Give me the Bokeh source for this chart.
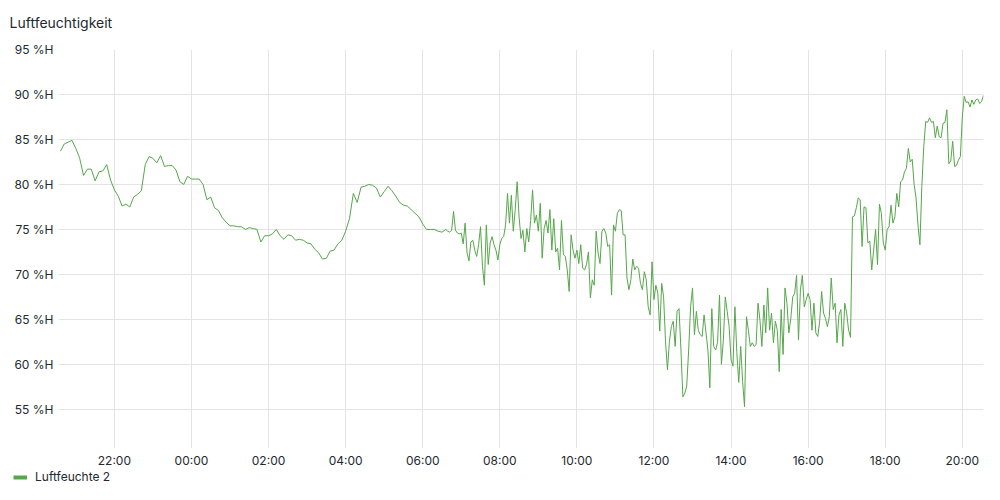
import pandas as pd
from bokeh.plotting import figure
from bokeh.layouts import column
from bokeh.models import (Range1d, FixedTicker, CustomJSTickFormatter, DatetimeTickFormatter,
                          Label, Legend, LegendItem, ColumnDataSource)
from bokeh.embed import file_html
from bokeh.resources import INLINE

title_text = "Luftfeuchtigkeit"
series_name = "Luftfeuchte 2"

# time window shown (24 h)
window_start = "2024-06-10 20:33"
window_end = "2024-06-11 20:33"

# y-axis ticks (%H)
y_ticks = [55, 60, 65, 70, 75, 80, 85, 90, 95]

# x-axis ticks
x_tick_times = ["2024-06-10 22:00", "2024-06-11 00:00", "2024-06-11 02:00", "2024-06-11 04:00",
                "2024-06-11 06:00", "2024-06-11 08:00", "2024-06-11 10:00", "2024-06-11 12:00",
                "2024-06-11 14:00", "2024-06-11 16:00", "2024-06-11 18:00", "2024-06-11 20:00"]

# night readings: every 6 min from 20:36 to 06:36
night_start = "2024-06-10 20:36"
hum_night = [
    83.7, 84.5, 84.7, 84.9, 84.0, 82.9, 81.0, 81.7, 81.7, 80.4,
    81.4, 81.5, 82.2, 80.5, 79.4, 78.7, 77.6, 77.8, 77.5, 78.6,
    78.9, 79.3, 82.2, 83.1, 82.9, 82.4, 83.2, 82.0, 82.1, 82.1,
    81.6, 80.3, 80.0, 80.9, 80.6, 80.6, 80.6, 80.0, 78.3, 78.6,
    77.4, 77.1, 76.3, 75.8, 75.4, 75.4, 75.3, 75.3, 75.0, 75.2,
    75.1, 75.0, 73.6, 74.3, 74.3, 74.5, 75.0, 74.3, 73.9, 74.4,
    74.3, 73.8, 73.9, 73.8, 73.5, 73.4, 72.8, 72.4, 71.7, 71.8,
    72.6, 72.7, 73.4, 73.8, 74.8, 76.2, 79.0, 78.0, 79.7, 79.8,
    80.0, 79.9, 79.6, 78.6, 79.2, 79.8, 79.3, 78.7, 78.0, 77.7,
    77.6, 77.2, 76.8, 76.4, 75.6, 75.0, 75.0, 75.0, 74.8, 74.7,
    75.0,
]

# day readings: every 3 min from 06:39 to 20:33
day_start = "2024-06-11 06:39"
hum_morning = [
    74.8, 74.7, 74.9, 77.0, 74.9, 74.6, 74.5, 74.6, 73.4, 75.7,
    72.4, 71.5, 73.6, 73.8, 72.7, 72.0, 73.3, 75.3, 70.9, 68.8,
    75.5, 71.1, 73.5, 74.2, 73.3, 72.7, 71.6, 73.3, 74.0, 74.2,
    75.5, 79.0, 75.7, 78.8, 74.8, 77.2, 80.3, 76.4, 74.0, 74.9,
    72.5, 75.1, 73.6, 76.0, 79.4, 75.7, 76.6, 74.8, 77.9, 71.8,
    75.1, 76.0, 74.6, 77.2, 72.7, 76.2, 72.5, 72.9, 70.5, 76.0,
    72.2, 72.0, 70.5, 68.1, 74.4, 72.7, 71.8, 72.7, 71.2, 73.3,
    70.7, 70.5, 71.1, 72.5, 67.4, 69.4, 68.8, 74.8, 72.4, 71.2,
    74.8, 75.1, 74.6, 73.1, 73.3, 67.7, 75.5, 74.8, 76.8, 77.2,
    77.1, 74.4, 74.4, 69.6, 68.3, 69.4, 71.7, 70.5, 70.9, 70.7,
]
hum_midday = [
    69.0, 68.3, 70.3, 69.4, 66.4, 65.5, 71.4, 67.2, 68.8, 67.9,
    63.7, 69.0, 67.5, 62.5, 59.4, 62.5, 64.2, 64.8, 62.0, 65.9,
    66.2, 61.6, 56.4, 56.8, 57.6, 61.6, 66.4, 68.5, 63.3, 65.9,
    63.8, 63.3, 63.1, 65.5, 63.5, 61.6, 57.4, 66.2, 62.0, 61.6,
    62.4, 67.7, 60.0, 62.7, 67.5, 65.9, 64.2, 60.5, 59.8, 66.4,
    61.3, 58.0, 62.0, 58.1, 55.3, 65.3, 63.8, 62.0, 62.4, 62.0,
    62.2, 66.8, 64.9, 62.0, 66.6, 63.5, 68.5, 63.8, 65.7, 62.4,
    64.8, 63.8, 59.2, 66.1, 61.1, 68.5, 66.8, 63.5, 65.1, 67.5,
    67.9, 69.9, 62.7, 68.3, 69.9, 66.4, 67.2, 67.9, 67.2, 63.8,
    66.8, 63.5, 63.1, 64.8, 68.1, 65.7, 65.1, 64.2, 65.3, 69.6,
]
hum_evening = [
    66.1, 66.8, 62.4, 65.5, 66.1, 62.0, 66.8, 65.7, 63.8, 63.0,
    76.4, 76.5, 77.4, 78.5, 78.3, 73.1, 77.5, 77.4, 73.5, 73.7,
    70.5, 72.7, 75.0, 71.1, 77.8, 76.8, 73.5, 72.7, 75.0, 75.3,
    77.7, 75.7, 76.4, 79.0, 77.5, 80.3, 80.5, 81.4, 81.8, 84.0,
    82.5, 82.8, 80.0, 78.5, 75.5, 73.3, 79.8, 84.2, 87.0, 86.9,
    87.4, 86.9, 87.0, 85.2, 86.5, 85.3, 85.2, 86.8, 86.9, 88.3,
    82.3, 82.6, 84.8, 82.0, 82.1, 82.7, 83.1, 87.5, 89.8, 89.1,
    89.2, 88.6, 89.4, 88.9, 89.4, 89.5, 89.0, 89.2, 89.9,
]

LINE_COLOR = "#56a64b"
TEXT_COLOR = "#24292e"
GRID_COLOR = "#e4e4e4"
FONT = "Inter"
W = 984

hum_day = hum_morning + hum_midday + hum_evening
t_night = pd.date_range(night_start, periods=len(hum_night), freq="6min")
t_day = pd.date_range(day_start, periods=len(hum_day), freq="3min")
times = list(t_night) + list(t_day)
values = hum_night + hum_day
src = ColumnDataSource(data=dict(t=times, h=values))


def blank_strip(height):
    f = figure(width=W, height=height, output_backend="svg", toolbar_location=None, title=None,
               x_axis_location=None, y_axis_location=None, min_border=0,
               min_border_left=0, min_border_right=0, min_border_top=0, min_border_bottom=0,
               x_range=Range1d(0, 1), y_range=Range1d(0, 1))
    f.frame_align = False
    f.outline_line_color = None
    f.grid.visible = False
    return f


# --- panel title strip
head = blank_strip(41)
head.add_layout(Label(x=9, y=19, x_units="screen", y_units="screen", text=title_text,
                      text_font=FONT, text_font_size="14px", text_color=TEXT_COLOR,
                      text_baseline="alphabetic", text_align="left"))

# --- main chart
p = figure(width=W, height=429, x_axis_type="datetime", output_backend="svg",
           toolbar_location=None, title=None,
           x_range=Range1d(pd.Timestamp(window_start), pd.Timestamp(window_end)),
           y_range=Range1d(50.65, 95),
           min_border_left=58, min_border_right=1, min_border_top=8, min_border_bottom=20)
p.frame_align = False
p.outline_line_color = None
p.line("t", "h", source=src, line_color=LINE_COLOR, line_width=1)

p.yaxis.ticker = FixedTicker(ticks=y_ticks)
p.yaxis.formatter = CustomJSTickFormatter(code="return tick + ' %H';")
p.xaxis.ticker = FixedTicker(ticks=[pd.Timestamp(s).value / 1e6 for s in x_tick_times])
fmt = "%H:%M"
p.xaxis.formatter = DatetimeTickFormatter(milliseconds=fmt, seconds=fmt, minsec=fmt, minutes=fmt,
                                          hourmin=fmt, hours=fmt, days=fmt, months=fmt, years=fmt)
for ax in (p.xaxis[0], p.yaxis[0]):
    ax.axis_line_color = None
    ax.major_tick_line_color = None
    ax.minor_tick_line_color = None
    ax.major_tick_out = 0
    ax.major_tick_in = 0
    ax.major_label_text_font = FONT
    ax.major_label_text_font_size = "12px"
    ax.major_label_text_color = TEXT_COLOR
p.xaxis.major_label_standoff = 4
p.yaxis.major_label_standoff = 5
p.grid.grid_line_color = GRID_COLOR
p.grid.grid_line_width = 1

# --- legend strip (swatch renderer uses the series, which lies outside this strip's ranges)
foot = blank_strip(14)
swatch = foot.line("t", "h", source=src, line_color=LINE_COLOR, line_width=4)
foot.add_layout(Legend(items=[LegendItem(label=series_name, renderers=[swatch])],
                       location=(13, 0), glyph_width=14, glyph_height=14, label_height=14,
                       label_standoff=8, padding=0, margin=0, spacing=0,
                       border_line_color=None, background_fill_alpha=0,
                       label_text_font=FONT, label_text_font_size="12px",
                       label_text_color=TEXT_COLOR))

layout = column(head, p, foot, spacing=0)
open("out.html", "w").write(file_html(layout, INLINE))
